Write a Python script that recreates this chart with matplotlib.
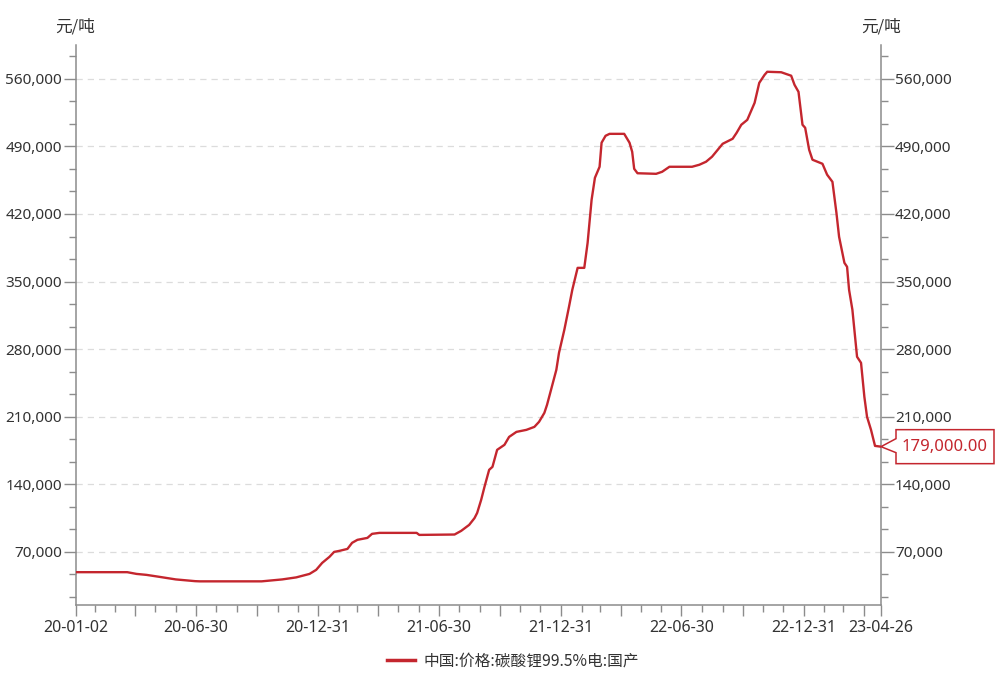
import matplotlib
matplotlib.use("Agg")
from matplotlib import pyplot as plt
from matplotlib.patches import Polygon
from matplotlib.ticker import FixedLocator, MultipleLocator, FuncFormatter
import matplotlib.transforms as mtransforms
import matplotlib.dates as mdates
import pandas as pd

plt.rcParams['font.family'] = ['Noto Sans', 'Noto Sans CJK SC', 'DejaVu Sans']

# Data (元/吨)
dates = [
    "2020-01-02", "2020-03-19", "2020-04-02", "2020-04-17", "2020-05-07", "2020-05-31",
    "2020-06-29", "2020-07-06", "2020-10-07", "2020-11-07", "2020-11-28", "2020-12-18",
    "2020-12-28", "2021-01-06", "2021-01-17", "2021-01-24", "2021-02-01", "2021-02-13",
    "2021-02-20", "2021-02-28", "2021-03-15", "2021-03-22", "2021-04-02", "2021-05-28",
    "2021-06-01", "2021-07-24", "2021-08-03", "2021-08-15", "2021-08-23", "2021-08-27",
    "2021-09-02", "2021-09-07", "2021-09-14", "2021-09-19", "2021-09-26", "2021-10-07",
    "2021-10-14", "2021-10-25", "2021-11-09", "2021-11-21", "2021-11-28", "2021-12-06",
    "2021-12-10", "2021-12-16", "2021-12-24", "2021-12-28", "2022-01-05", "2022-01-12",
    "2022-01-17", "2022-01-25", "2022-02-04", "2022-02-09", "2022-02-15", "2022-02-20",
    "2022-02-27", "2022-03-02", "2022-03-08", "2022-03-14", "2022-04-05", "2022-04-13",
    "2022-04-17", "2022-04-20", "2022-04-25", "2022-05-23", "2022-06-01", "2022-06-12",
    "2022-07-16", "2022-07-27", "2022-08-06", "2022-08-15", "2022-08-31", "2022-09-15",
    "2022-09-21", "2022-09-28", "2022-10-07", "2022-10-18", "2022-10-25", "2022-11-02",
    "2022-11-06", "2022-11-27", "2022-12-12", "2022-12-17", "2022-12-23", "2022-12-29",
    "2023-01-02", "2023-01-08", "2023-01-13", "2023-01-28", "2023-02-04", "2023-02-12",
    "2023-02-18", "2023-02-22", "2023-03-02", "2023-03-06", "2023-03-09", "2023-03-14",
    "2023-03-21", "2023-03-27", "2023-04-01", "2023-04-05", "2023-04-11", "2023-04-17",
    "2023-04-26",
]
prices = [
    49000, 49000, 47200, 46200, 44100, 41500,
    39700, 39500, 39500, 41500, 43600, 47200,
    51400, 58600, 64900, 70000, 71100, 73100,
    79400, 82500, 84500, 88700, 89700, 89700,
    87600, 88000, 91800, 98000, 105000, 110400,
    123900, 137400, 155000, 158100, 175700, 180900,
    189100, 194300, 196400, 199500, 204700, 214000,
    222300, 237800, 258600, 276200, 300000, 323800,
    341500, 364200, 364200, 390100, 434700, 457500,
    468900, 493800, 501000, 503000, 503000, 493800,
    484400, 466800, 462200, 461600, 463700, 468900,
    468900, 471000, 474100, 479300, 492700, 497900,
    504100, 512400, 517500, 535100, 555800, 564100,
    567300, 566800, 563200, 553800, 546500, 512400,
    509300, 486500, 476200, 472000, 460700, 453300,
    421200, 396400, 369400, 365300, 341500, 320800,
    272100, 265800, 230600, 209900, 196400, 179800,
    179000,
]
series_name = "中国:价格:碳酸锂99.5%电:国产"
unit = "元/吨"

y_ticks = [70000, 140000, 210000, 280000, 350000, 420000, 490000, 560000]
label_dates = ["2020-01-02", "2020-06-30", "2020-12-31", "2021-06-30",
               "2021-12-31", "2022-06-30", "2022-12-31", "2023-04-26"]
label_text = ["20-01-02", "20-06-30", "20-12-31", "21-06-30",
              "21-12-31", "22-06-30", "22-12-31", "23-04-26"]

red = "#c4262e"
gray = "#8c8c8c"
text_c = "#333333"
cjk = ["Noto Sans CJK SC", "DejaVu Sans"]

x = pd.to_datetime(dates)

fig = plt.figure(figsize=(10, 6.75), dpi=100)
ax = fig.add_axes([0.076, 0.1037, 0.805, 0.8296])

ax.plot(x, prices, color=red, lw=1.7, zorder=3)

ax.set_xlim(pd.Timestamp(dates[0]), pd.Timestamp(dates[-1]))
ax.set_ylim(15000, 595000)

# y axis on both sides
ax.yaxis.set_major_locator(FixedLocator(y_ticks))
ax.yaxis.set_minor_locator(MultipleLocator(70000 / 3))
ax.yaxis.set_major_formatter(FuncFormatter(lambda v, p: f"{v:,.0f}"))
ax.tick_params(axis="y", which="both", left=True, right=True,
               labelleft=True, labelright=True, direction="out",
               colors=gray, labelcolor=text_c, labelsize=11)
ax.tick_params(axis="y", which="major", length=9, width=1, pad=1)
ax.tick_params(axis="y", which="minor", length=5, width=1)
ax.grid(axis="y", which="major", color="#dcdcdc", ls=(0, (5, 4)), lw=0.9)

# x axis: quarter-end long ticks, month-end short ticks
month_ends = pd.date_range("2020-01-31", "2023-04-30", freq="ME")
quarter_ends = [d for d in month_ends if d.month in (3, 6, 9, 12)]
major_x = sorted(set([pd.Timestamp(d) for d in label_dates] + list(quarter_ends)))
major_x = [d for d in major_x if d <= pd.Timestamp(dates[-1])]
lab_map = dict(zip(pd.to_datetime(label_dates), label_text))
ax.xaxis.set_major_locator(FixedLocator(mdates.date2num(major_x)))
ax.xaxis.set_major_formatter(FuncFormatter(
    lambda v, p: lab_map.get(pd.Timestamp(mdates.num2date(v)).tz_localize(None).normalize(), "")))
minor_x = [d for d in month_ends if d <= pd.Timestamp(dates[-1])]
ax.xaxis.set_minor_locator(FixedLocator(mdates.date2num(minor_x)))
ax.tick_params(axis="x", which="both", direction="out", colors=gray,
               labelcolor=text_c, labelsize=11.5)
ax.tick_params(axis="x", which="major", length=8, width=1, pad=3)
ax.tick_params(axis="x", which="minor", length=5, width=1)

for s in ["left", "right", "bottom"]:
    ax.spines[s].set_color(gray)
    ax.spines[s].set_linewidth(1.1)
ax.spines["top"].set_visible(False)

# unit labels
fig.text(0.075, 0.960, unit, ha="center", va="center", fontsize=12, color=text_c, family=cjk)
fig.text(0.881, 0.960, unit, ha="center", va="center", fontsize=12, color=text_c, family=cjk)

# callout for the last value
trans = fig.dpi_scale_trans + mtransforms.ScaledTranslation(
    mdates.date2num(x[-1]), prices[-1], ax.transData)
verts = [(0, 0), (0.15, 0.08), (0.15, 0.17), (1.13, 0.17), (1.13, -0.17),
         (0.15, -0.17), (0.15, -0.06)]
ax.add_patch(Polygon(verts, closed=True, transform=trans, facecolor="white",
                     edgecolor=red, lw=1.1, clip_on=False, zorder=5))
ax.text(0.64, 0.0, f"{prices[-1]:,.2f}", transform=trans, ha="center", va="center",
        fontsize=12, color=red, clip_on=False, zorder=6)

# legend
fig.legend([plt.Line2D([], [], color=red, lw=2.5)], [series_name],
           loc="center", bbox_to_anchor=(0.513, 0.021), frameon=False,
           handlelength=1.8, handletextpad=0.5, labelcolor=text_c,
           prop={"family": cjk, "size": 11.3})

fig.savefig("out.png", dpi=100)
